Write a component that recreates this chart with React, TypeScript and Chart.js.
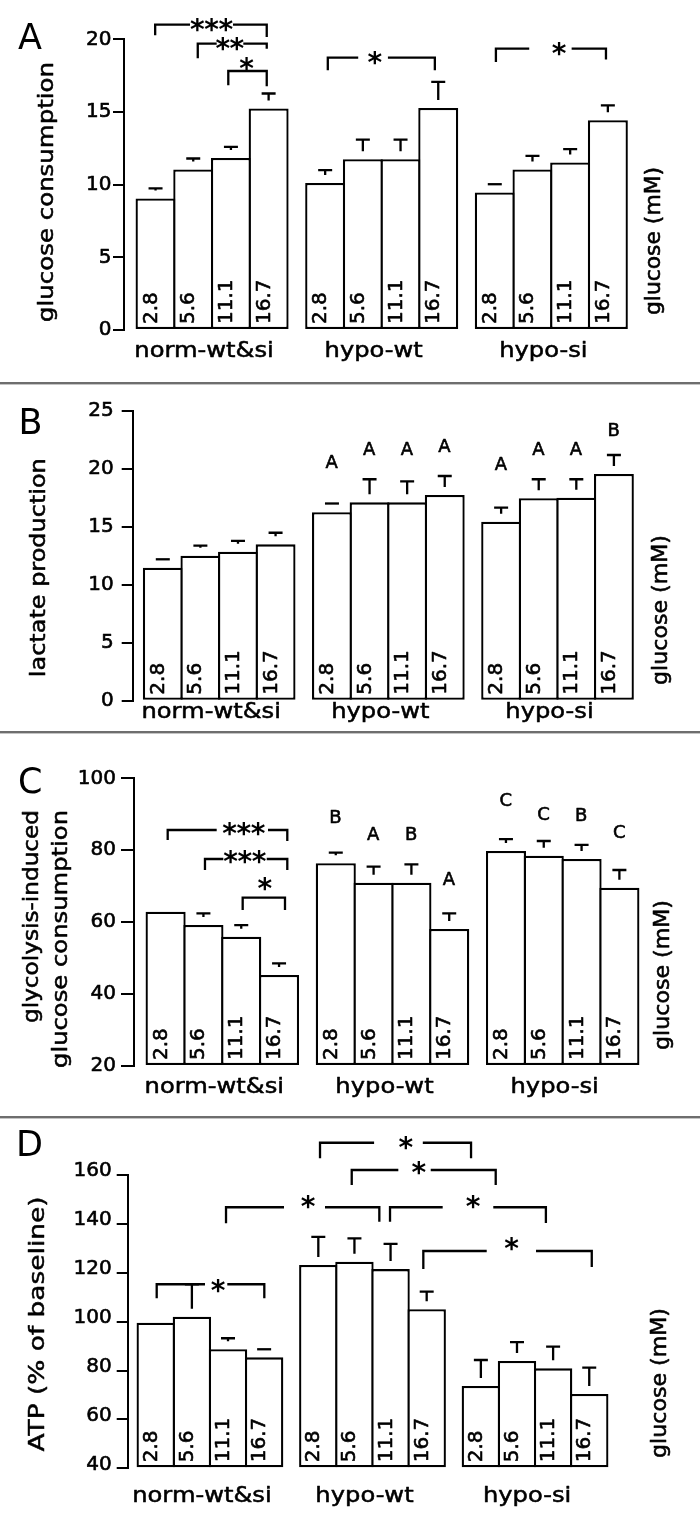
import React, { useEffect, useRef } from "react";
import { Chart, registerables } from "chart.js";

Chart.register(...registerables);
Chart.defaults.font.family = "DejaVu Sans";

// ---------- data ----------
const DOSES = ["2.8", "5.6", "11.1", "16.7"];
const GROUPS = ["norm-wt&si", "hypo-wt", "hypo-si"];

const A_MEAN = [9.05, 11.04, 11.84, 15.24, 10.12, 11.75, 11.75, 15.28, 9.46, 11.04, 11.52, 14.43];
const A_SE = [0.69, 0.76, 0.76, 1.03, 0.88, 1.35, 1.35, 1.79, 0.57, 0.94, 0.92, 1.03];
const A_TICKS = { min: 0, max: 20, step: 5 };

const B_MEAN = [11.47, 12.5, 12.85, 13.48, 16.24, 17.1, 17.1, 17.73, 15.43, 17.45, 17.5, 19.54];
const B_SE = [0.72, 0.86, 0.92, 1.0, 0.76, 1.99, 1.8, 1.64, 1.21, 1.64, 1.59, 1.64];
const B_TICKS = { min: 0, max: 25, step: 5 };
const B_LETTERS = ["", "", "", "", "A", "A", "A", "A", "A", "A", "A", "B"];
const B_LETTER_Y = [0, 0, 0, 0, 20.6, 21.76, 21.76, 21.96, 20.47, 21.76, 21.76, 23.34];

const C_MEAN = [62.9, 59.2, 55.96, 45.3, 76.37, 70.97, 70.97, 58.1, 79.79, 78.48, 77.56, 69.6];
const C_SE = [0, 3.26, 3.24, 3.26, 2.96, 4.45, 5.12, 4.36, 3.31, 4.09, 3.9, 4.9];
const C_TICKS = { min: 20, max: 100, step: 20 };
const C_LETTERS = ["", "", "", "", "B", "A", "B", "A", "C", "C", "B", "C"];
const C_LETTER_Y = [0, 0, 0, 0, 89.3, 84.7, 84.7, 72.2, 94.0, 90.3, 89.8, 85.2];

const D_MEAN = [99.6, 102.0, 88.7, 85.4, 123.2, 124.5, 121.5, 105.1, 73.7, 83.9, 80.9, 70.4];
const D_SE = [0, 13.3, 4.5, 3.3, 11.5, 9.6, 10.3, 7.2, 10.6, 7.7, 8.9, 10.8];
const D_TICKS = { min: 40, max: 160, step: 20 };

// significance brackets: a,b,t in x-axis units; y in data units
const A_BRACKETS = [
  { a: -0.01, b: 2.95, y: 21.01, la: 10.7, lb: 12.4, s: "***", t: 1.49, gl: 21.7, gr: 21.3, dy: 0 },
  { a: 1.12, b: 2.95, y: 19.7, la: 14.7, lb: 5, s: "**", t: 1.975, gl: 13.3, gr: 13.3, dy: 0 },
  { a: 1.93, b: 2.95, y: 17.82, la: 14.3, lb: 15.3, s: "*", t: 2.42, gl: 0, gr: 0, dy: 7 },
  { a: 4.57, b: 7.41, y: 18.74, la: 12.7, lb: 12.7, s: "*", t: 5.82, gl: 16.7, gr: 13, dy: 0 },
  { a: 9.03, b: 11.95, y: 19.36, la: 13.4, lb: 11, s: "*", t: 10.71, gl: 30, gr: 12.4, dy: 0 },
];
const C_BRACKETS = [
  { a: 0.055, b: 3.218, y: 85.63, la: 10, lb: 11, s: "***", t: 2.073, gl: 27.3, gr: 24, dy: 1 },
  { a: 1.041, b: 3.218, y: 77.56, la: 11, lb: 11, s: "***", t: 2.1, gl: 21.7, gr: 21.7, dy: 2 },
  { a: 2.038, b: 3.157, y: 66.8, la: 12.3, lb: 12.3, s: "*", t: 2.628, gl: 0, gr: 0, dy: 14 },
];
const D_BRACKETS = [
  { a: 4.547, b: 8.728, y: 173.2, la: 15.6, lb: 15.6, s: "*", t: 6.93, gl: 32, gr: 16.7, dy: 0 },
  { a: 5.425, b: 9.411, y: 162.05, la: 15, lb: 15, s: "*", t: 7.288, gl: 20.7, gr: 11.7, dy: 2 },
  { a: 1.945, b: 6.189, y: 146.8, la: 16, lb: 14.4, s: "*", t: 4.223, gl: 24.3, gr: 16.7, dy: 5.6 },
  { a: 6.485, b: 10.8, y: 146.8, la: 14.4, lb: 15.7, s: "*", t: 8.79, gl: 30.6, gr: 20, dy: 5.6 },
  { a: 7.407, b: 12.07, y: 128.9, la: 18, lb: 16, s: "*", t: 9.854, gl: 25, gr: 24.3, dy: 7 },
  { a: 0.026, b: 3.005, y: 115.3, la: 14, lb: 14, s: "*", t: 1.731, gl: 13.3, gr: 9, dy: -2 },
];

// bar positions on the x axis (groups of four with a half-bar gap)
const POS = GROUPS.flatMap((_, g) => DOSES.map((_, i) => g * 4.5 + i));

// ---------- layout ----------
const PANELS = [
  {
    key: "A", mean: A_MEAN, se: A_SE, ticks: A_TICKS, brackets: A_BRACKETS, letters: null, letterY: null,
    top: 0, h: 382, axisX: 124, yTop: 39.3, yBot: 330, barsL: 136.7, barsR: 626.7,
    tickLen: 11, tickPad: 1.5, labelOffset: 0, letterPos: [30, 35.5],
    titles: [{ s: "glucose consumption", x: 48, y: 192, len: 260, align: "center" }],
    right: { x: 655, y: 241, len: 148 }, groupBase: 357,
  },
  {
    key: "B", mean: B_MEAN, se: B_SE, ticks: B_TICKS, brackets: [], letters: B_LETTERS, letterY: B_LETTER_Y,
    top: 385, h: 346, axisX: 132.7, yTop: 410.7, yBot: 700.7, barsL: 144, barsR: 632.7,
    tickLen: 11, tickPad: 8, labelOffset: 0, letterPos: [31, 421],
    titles: [{ s: "lactate production", x: 40, y: 567.7, len: 219, align: "center" }],
    right: { x: 661.7, y: 610, len: 150 }, groupBase: 718,
  },
  {
    key: "C", mean: C_MEAN, se: C_SE, ticks: C_TICKS, brackets: C_BRACKETS, letters: C_LETTERS, letterY: C_LETTER_Y,
    top: 734, h: 382, axisX: 134, yTop: 778.3, yBot: 1066, barsL: 146.7, barsR: 638.3,
    tickLen: 13, tickPad: 5, labelOffset: 0, letterPos: [30, 780],
    titles: [
      { s: "glycolysis-induced", x: 33, y: 810, len: 213, align: "right" },
      { s: "glucose consumption", x: 62, y: 810, len: 258, align: "right" },
    ],
    right: { x: 664, y: 975, len: 150 }, groupBase: 1093.3,
  },
  {
    key: "D", mean: D_MEAN, se: D_SE, ticks: D_TICKS, brackets: D_BRACKETS, letters: null, letterY: null,
    top: 1119, h: 398, axisX: 127.7, yTop: 1175, yBot: 1468.3, barsL: 137.7, barsR: 607.3,
    tickLen: 11, tickPad: 5, labelOffset: -4, letterPos: [30, 1143],
    titles: [{ s: "ATP (% of baseline)", x: 39, y: 1324, len: 255, align: "center" }],
    right: { x: 661, y: 1383, len: 150 }, groupBase: 1501.7,
  },
];

const BW = 2.3;
const FONT = "DejaVu Sans";
const HEAVY = 0.6; // faux-bold outline width for text

function glyph(ctx: CanvasRenderingContext2D, s: string, x: number, y: number, font: string, heavy = HEAVY) {
  ctx.save();
  ctx.font = font;
  ctx.textAlign = "left";
  ctx.textBaseline = "alphabetic";
  ctx.fillStyle = "#000";
  ctx.strokeStyle = "#000";
  ctx.lineWidth = heavy;
  ctx.lineJoin = "round";
  const m = ctx.measureText(s);
  const cx = (m.actualBoundingBoxRight - m.actualBoundingBoxLeft) / 2;
  const cy = (m.actualBoundingBoxDescent - m.actualBoundingBoxAscent) / 2;
  ctx.fillText(s, x - cx, y - cy);
  if (heavy) ctx.strokeText(s, x - cx, y - cy);
  ctx.restore();
}

function text(
  ctx: CanvasRenderingContext2D, s: string, x: number, y: number,
  o: { font: string; align?: CanvasTextAlign; base?: CanvasTextBaseline; rot?: number; sx?: number; len?: number }
) {
  ctx.save();
  ctx.translate(x, y);
  if (o.rot) ctx.rotate(o.rot);
  ctx.font = o.font;
  ctx.textAlign = o.align || "center";
  ctx.textBaseline = o.base || "alphabetic";
  ctx.fillStyle = "#000";
  ctx.strokeStyle = "#000";
  ctx.lineJoin = "round";
  let sx = o.sx || 1;
  if (o.len) sx = o.len / ctx.measureText(s).width;
  ctx.scale(sx, 1);
  ctx.lineWidth = HEAVY / sx;
  ctx.fillText(s, 0, 0);
  ctx.strokeText(s, 0, 0);
  ctx.restore();
}

function makeOverlay(p: any) {
  return {
    id: "overlay" + p.key,
    afterDraw(chart: any) {
      const ctx: CanvasRenderingContext2D = chart.ctx;
      const xs = chart.scales.x;
      const ys = chart.scales.y;
      const off = p.top;
      const X = (v: number) => xs.getPixelForValue(v);
      const Y = (v: number) => ys.getPixelForValue(v);

      ctx.save();
      ctx.strokeStyle = "#000";
      ctx.lineWidth = BW;
      ctx.lineCap = "butt";
      ctx.lineJoin = "miter";

      // error bars
      p.mean.forEach((m: number, i: number) => {
        const se = p.se[i];
        if (!se) return;
        const cx = X(POS[i]);
        const capY = Y(m + se);
        const topY = Y(m);
        ctx.beginPath();
        ctx.moveTo(cx - 7, capY);
        ctx.lineTo(cx + 7, capY);
        const stemEnd = topY - 8;
        if (stemEnd > capY + 1) {
          ctx.moveTo(cx, capY);
          ctx.lineTo(cx, stemEnd);
        }
        ctx.stroke();
      });

      // brackets
      p.brackets.forEach((b: any) => {
        const x1 = X(b.a), x2 = X(b.b), yl = Y(b.y), tx = X(b.t);
        ctx.beginPath();
        ctx.moveTo(x1, yl + b.la);
        ctx.lineTo(x1, yl);
        if (b.gl || b.gr) {
          ctx.lineTo(tx - b.gl, yl);
          ctx.moveTo(tx + b.gr, yl);
        }
        ctx.lineTo(x2, yl);
        ctx.lineTo(x2, yl + b.lb);
        ctx.stroke();
        const n = b.s.length;
        for (let k = 0; k < n; k++) {
          glyph(ctx, "*", tx + (k - (n - 1) / 2) * 14.2, yl - b.dy, `bold 28px ${FONT}`, 0);
        }
      });

      // y tick labels
      ys.ticks.forEach((t: any) => {
        text(ctx, String(t.value), p.axisX - p.tickLen - p.tickPad, Y(t.value) + p.labelOffset, {
          font: `20px ${FONT}`, align: "right", base: "middle",
        });
      });

      // dose labels inside bars
      const base = Y(p.ticks.min);
      POS.forEach((pos, i) => {
        const cx = X(pos);
        text(ctx, DOSES[i % 4], cx + 1, base - 6, { font: `20px ${FONT}`, align: "left", rot: -Math.PI / 2 });
      });

      // letters
      if (p.letters) {
        p.letters.forEach((l: string, i: number) => {
          if (!l) return;
          glyph(ctx, l, X(POS[i]), Y(p.letterY[i]), `18px ${FONT}`);
        });
      }

      // group labels
      GROUPS.forEach((g, gi) => {
        text(ctx, g, X(gi * 4.5 + 1.5) - 8, p.groupBase - off, { font: `22px ${FONT}`, sx: 1.1 });
      });

      // titles
      p.titles.forEach((t: any) => {
        text(ctx, t.s, t.x, t.y - off, {
          font: `21px ${FONT}`, align: t.align, base: "middle", rot: -Math.PI / 2, len: t.len,
        });
      });
      text(ctx, "glucose (mM)", p.right.x, p.right.y - off, {
        font: `21px ${FONT}`, align: "center", base: "middle", rot: -Math.PI / 2, len: p.right.len,
      });

      // panel letter
      glyph(ctx, p.key, p.letterPos[0], p.letterPos[1] - off, `35px ${FONT}`, 0);
      ctx.restore();
    },
  };
}

function Panel({ p }: { p: any }) {
  const ref = useRef<HTMLCanvasElement | null>(null);
  useEffect(() => {
    const unit = (p.barsR - p.barsL) / 13;
    const xmin = -0.5 - (p.barsL - p.axisX) / unit;
    const chart = new Chart(ref.current as HTMLCanvasElement, {
      type: "bar",
      data: {
        datasets: [
          {
            data: POS.map((x, i) => ({ x, y: p.mean[i] })),
            base: p.ticks.min,
            backgroundColor: "#fff",
            borderColor: "#000",
            borderWidth: BW,
            borderSkipped: false,
            barPercentage: 1 + BW / unit,
            categoryPercentage: 1,
            clip: false,
          } as any,
        ],
      },
      options: {
        responsive: false,
        animation: false,
        devicePixelRatio: 1,
        events: [],
        layout: {
          padding: { left: 0, right: 700 - p.barsR, top: p.yTop - p.top, bottom: p.top + p.h - p.yBot },
        },
        plugins: { legend: { display: false }, tooltip: { enabled: false } },
        scales: {
          x: {
            type: "linear",
            display: false,
            offset: false,
            grid: { offset: false },
            min: xmin,
            max: 12.5,
            afterBuildTicks: (s: any) => {
              s.ticks = POS.map((v) => ({ value: v }));
            },
          },
          y: {
            type: "linear",
            min: p.ticks.min,
            max: p.ticks.max,
            afterFit: (s: any) => {
              s.width = p.axisX;
            },
            border: { display: true, color: "#000", width: 2 },
            grid: { drawOnChartArea: false, drawTicks: true, tickLength: p.tickLen, color: "#000", lineWidth: 2 },
            ticks: {
              display: false,
              stepSize: p.ticks.step,
            },
          },
        },
      } as any,
      plugins: [makeOverlay(p)],
    });
    return () => chart.destroy();
  }, []);
  return (
    <canvas
      ref={ref}
      width={700}
      height={p.h}
      style={{ position: "absolute", left: 0, top: p.top, width: 700, height: p.h }}
    />
  );
}

export default function App() {
  const seps = [382, 731, 1116];
  return (
    <div style={{ position: "absolute", left: 0, top: 0, width: 700, height: 1517, background: "#fff", overflow: "hidden" }}>
      {PANELS.map((p) => (
        <Panel key={p.key} p={p} />
      ))}
      {seps.map((y) => (
        <div key={y} style={{ position: "absolute", left: 0, top: y, width: 700, height: 3 }}>
          <div style={{ height: 2, background: "#6e6e6e" }} />
          <div style={{ height: 1, background: "#c4c4c4" }} />
        </div>
      ))}
    </div>
  );
}
